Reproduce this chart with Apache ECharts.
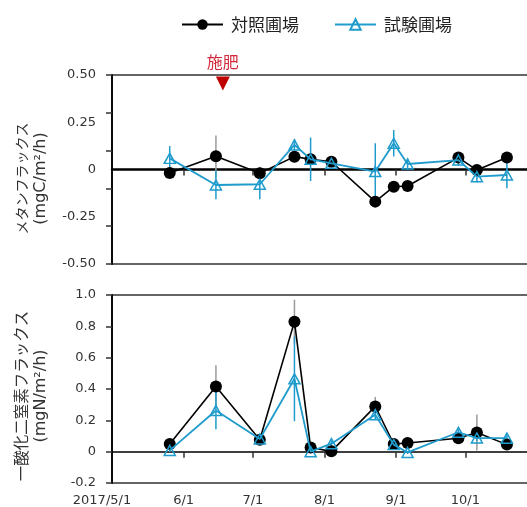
<!DOCTYPE html>
<html><head><meta charset="utf-8">
<script src="https://cdn.jsdelivr.net/npm/echarts@6/dist/echarts.min.js"></script>
<style>html,body{margin:0;padding:0;background:#fff}#c{width:527px;height:507px}</style>
</head><body><div id="c"></div>
<script>
// ---- data ----
const dates = ['2017-05-26','2017-06-15','2017-07-04','2017-07-19','2017-07-26','2017-08-04','2017-08-23','2017-08-31','2017-09-06','2017-09-28','2017-10-06','2017-10-19'];
const seriesNames = ['対照圃場','試験圃場'];
// methane flux (mgC/m2/h)
const ch4Control    = [-0.018, 0.070, -0.020, 0.068, 0.054, 0.041, -0.170, -0.091, -0.087, 0.063, -0.003, 0.064];
const ch4ControlErr = [0.010, 0.110, 0.035, 0.020, 0.020, 0.010, 0.020, 0.020, 0.020, 0.030, 0.020, 0.020];
const ch4Test       = [0.059, -0.082, -0.078, 0.130, 0.054, 0.033, -0.011, 0.139, 0.029, 0.050, -0.038, -0.029];
const ch4TestErr    = [0.065, 0.075, 0.080, 0.030, 0.115, 0.020, 0.150, 0.070, 0.030, 0.030, 0.030, 0.070];
// nitrous oxide flux (mgN/m2/h)
const n2oControl    = [0.049, 0.416, 0.076, 0.830, 0.027, 0.002, 0.289, 0.049, 0.055, 0.086, 0.123, 0.045];
const n2oControlErr = [0.010, 0.135, 0.020, 0.140, 0.010, 0.010, 0.060, 0.030, 0.010, 0.020, 0.115, 0.020];
const n2oTest       = [0.008, 0.263, 0.081, 0.465, 0.000, 0.051, 0.236, 0.045, -0.005, 0.124, 0.087, 0.086];
const n2oTestErr    = [0.010, 0.120, 0.020, 0.270, 0.010, 0.020, 0.030, 0.030, 0.010, 0.020, 0.020, 0.020];
const xLabelDates = ['2017-05-01','2017-06-01','2017-07-01','2017-08-01','2017-09-01','2017-10-01'];
const xTickDates  = ['2017-06-01','2017-07-01','2017-08-01','2017-09-01','2017-10-01'];
const xMin = '2017-05-01', xMax = '2017-10-29';
const fertilizeDate = '2017-06-18', fertilizeY = 0.455, fertilizeLabel = '施肥';
const ch4Name = ['メタンフラックス', '(mgC/m²/h)'];
const n2oName = ['一酸化二窒素フラックス', '(mgN/m²/h)'];

// ---- helpers ----
function t(s){ const p = s.split('-').map(Number); return new Date(p[0], p[1]-1, p[2]).getTime(); }
const BLUE = '#1f9bcc', GRAY = '#9a9a9a', TXT = '#333';
const NUMFONT = 'DejaVu Sans', JPFONT = 'Noto Sans CJK JP';

function errSeries(vals, errs, color, xi, yi){
  return {
    type:'custom', xAxisIndex:xi, yAxisIndex:yi, silent:true, z:1,
    data: dates.map((d,i)=>[t(d), vals[i]-errs[i], vals[i]+errs[i]]),
    encode:{x:0, y:[1,2]},
    renderItem:(params, api)=>{
      const lo = api.coord([api.value(0), api.value(1)]);
      const hi = api.coord([api.value(0), api.value(2)]);
      return {type:'line', shape:{x1:lo[0], y1:lo[1], x2:hi[0], y2:hi[1]}, style:{stroke:color, lineWidth:1.5}};
    }
  };
}
function ctrlSeries(vals, xi, yi){
  return {name:seriesNames[0], type:'line', xAxisIndex:xi, yAxisIndex:yi, z:3,
    data: dates.map((d,i)=>[t(d), vals[i]]),
    symbol:'circle', symbolSize:12,
    lineStyle:{color:'#000', width:1.6}, itemStyle:{color:'#000'}, silent:true};
}
function testSeries(vals, xi, yi){
  return {name:seriesNames[1], type:'line', xAxisIndex:xi, yAxisIndex:yi, z:4,
    data: dates.map((d,i)=>[t(d), vals[i]]),
    symbol:'triangle', symbolSize:[11,10],
    lineStyle:{color:BLUE, width:1.8}, itemStyle:{color:'rgba(0,0,0,0)', borderColor:BLUE, borderWidth:1.5}, silent:true};
}
function onZeroX(gi, yIdx, lw){
  return {type:'value', gridIndex:gi, min:t(xMin), max:t(xMax), position:'bottom',
    axisLine:{show:true, onZero:true, onZeroAxisIndex:yIdx, lineStyle:{color:'#000', width:lw}},
    axisTick:{show:true, customValues:xTickDates.map(t), length:6, lineStyle:{color:'#333', width:1.5}},
    axisLabel:{show:false}, splitLine:{show:false}};
}
function labelX(gi, show){
  return {type:'value', gridIndex:gi, min:t(xMin), max:t(xMax), position:'bottom',
    axisLine:{show:false, onZero:false}, axisTick:{show:false}, splitLine:{show:false},
    axisLabel:{show:show, customValues:xLabelDates.map(t), margin:11, fontSize:13, fontFamily:NUMFONT, color:TXT,
      formatter:(v)=>{ const d=new Date(v); const s=(d.getMonth()+1)+'/'+d.getDate();
        return (d.getMonth()===4) ? '{f|'+d.getFullYear()+'/'+s+'}' : s; },
      rich:{f:{fontSize:13, fontFamily:NUMFONT, color:TXT, padding:[0,20,0,0]}}}};
}
function nameStyle(jpSize, shift){
  return {color:TXT, padding:[0,shift,0,0], lineHeight:19,
    rich:{a:{fontSize:jpSize, fontFamily:JPFONT, color:TXT, lineHeight:19},
          b:{fontSize:16, fontFamily:NUMFONT, color:TXT, lineHeight:19}}};
}

const option = {
  animation:false,
  backgroundColor:'#fff',
  legend:{data:seriesNames, left:181, top:16, padding:0, itemWidth:41, itemHeight:13, itemGap:35,
    textStyle:{fontSize:17, color:'#222', fontFamily:JPFONT, padding:[0,0,0,3]}},
  grid:[
    {left:112, top:75, right:-3, height:189, show:true, borderColor:'#333', borderWidth:1.5, outerBoundsMode:'none', containLabel:false},
    {left:112, top:295, right:-3, height:188, show:true, borderColor:'#333', borderWidth:1.5, outerBoundsMode:'none', containLabel:false}
  ],
  xAxis:[ onZeroX(0, 0, 2.5), labelX(0, false), onZeroX(1, 2, 1.5), labelX(1, true) ],
  yAxis:[
    {type:'value', gridIndex:0, min:-0.5, max:0.5, interval:0.25, position:'left',
     axisLine:{show:true, onZero:false, lineStyle:{color:'#000', width:1.8}}, axisTick:{show:false}, splitLine:{show:false},
     axisLabel:{margin:16, fontSize:13, fontFamily:NUMFONT, color:TXT, formatter:v=>Math.abs(v)<1e-9?'0':v.toFixed(2)},
     name:'{a|'+ch4Name[0]+'}\n{b|'+ch4Name[1]+'}', nameLocation:'middle', nameRotate:90, nameGap:62, nameTextStyle:nameStyle(14, 18)},
    {type:'value', gridIndex:0, min:0, max:1, interval:0.2, position:'left',
     axisLine:{show:false, onZero:false}, axisLabel:{show:false}, splitLine:{show:false},
     axisTick:{show:true, length:6, lineStyle:{color:'#333', width:1.5}}},
    {type:'value', gridIndex:1, min:-0.2, max:1.0, interval:0.2, position:'left',
     axisLine:{show:true, onZero:false, lineStyle:{color:'#000', width:1.8}}, splitLine:{show:false},
     axisTick:{show:true, length:6, lineStyle:{color:'#333', width:1.5}},
     axisLabel:{margin:16, fontSize:13, fontFamily:NUMFONT, color:TXT, formatter:v=>Math.abs(v)<1e-9?'0':v.toFixed(1)},
     name:'{a|'+n2oName[0]+'}\n{b|'+n2oName[1]+'}', nameLocation:'middle', nameRotate:90, nameGap:62, nameTextStyle:nameStyle(15.5, 14)}
  ],
  series:[
    errSeries(ch4Control, ch4ControlErr, GRAY, 0, 0),
    errSeries(ch4Test, ch4TestErr, BLUE, 0, 0),
    Object.assign(ctrlSeries(ch4Control, 0, 0), {
      markPoint:{silent:true, symbol:'path://M0,0 L10,0 L5,10 Z', symbolSize:[14,14], itemStyle:{color:'#c00000'},
        label:{show:true, position:'top', distance:7, formatter:fertilizeLabel, color:'#d02a3a', fontSize:16, fontFamily:JPFONT},
        data:[{coord:[t(fertilizeDate), fertilizeY]}]}
    }),
    testSeries(ch4Test, 0, 0),
    errSeries(n2oControl, n2oControlErr, GRAY, 2, 2),
    errSeries(n2oTest, n2oTestErr, BLUE, 2, 2),
    ctrlSeries(n2oControl, 2, 2),
    testSeries(n2oTest, 2, 2)
  ]
};
const chart = echarts.init(document.getElementById('c'), null, {renderer:'canvas'});
chart.setOption(option);
</script>
</body></html>
